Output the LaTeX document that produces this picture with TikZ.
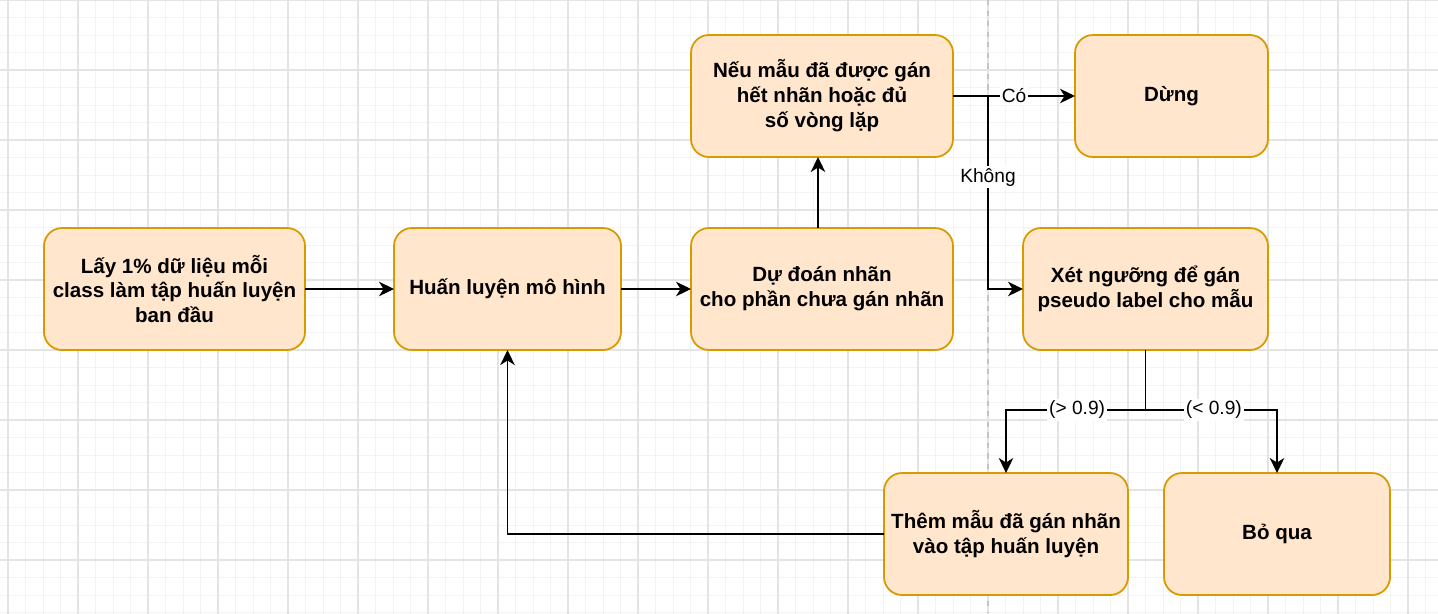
\documentclass[tikz,border=0pt]{standalone}
\usepackage{fontspec}
\setmainfont{Liberation Sans}
\usepackage{tikz}
\usetikzlibrary{arrows.meta,positioning,calc}
\definecolor{boxfill}{HTML}{FFE6CC}
\definecolor{boxline}{HTML}{D79B00}
\definecolor{minorgrid}{HTML}{F3F3F3}
\definecolor{majorgrid}{HTML}{E4E4E4}
\definecolor{pageline}{HTML}{C4C4C4}

\begin{document}
\begin{tikzpicture}[
  box/.style={draw=boxline, fill=boxfill, line width=1pt, rounded corners=0.36cm, align=center,
    minimum height=2.44cm, inner sep=2pt, outer sep=0pt, font=\bfseries\fontsize{11.7}{14.2}\selectfont},
  arr/.style={-{Stealth[length=0.3cm, width=0.29cm, inset=0.09cm]}, line width=1.05pt},
  lbl/.style={fill=white, inner sep=1pt, font=\fontsize{10.9}{13}\selectfont},
  node distance=1.4cm
]
\useasboundingbox (0,0) rectangle (28.76,-12.26);
\draw[minorgrid, line width=0.5pt, xshift=0.16cm, step=0.35cm] (-0.2,0.1) grid (28.7,-12.3);
\draw[majorgrid, line width=0.6pt, xshift=0.16cm, step=1.4cm] (-0.2,0.1) grid (28.7,-12.3);
\draw[pageline, dashed, line width=0.6pt] (19.76,0) -- (19.76,-12.26);

\node[box, minimum width=5.22cm] (init) at (3.49,-5.78) {Lấy 1\% dữ liệu mỗi\\class làm tập huấn luyện\\ban đầu};
\node[box, minimum width=4.54cm, right=1.78cm of init] (train) {Huấn luyện mô hình};
\node[box, minimum width=5.24cm, right=of train] (predict) {Dự đoán nhãn\\cho phần chưa gán nhãn};
\node[box, minimum width=5.24cm, above=1.42cm of predict] (check) {Nếu mẫu đã được gán\\hết nhãn hoặc đủ\\số vòng lặp};
\node[box, minimum width=3.86cm, right=2.44cm of check] (stop) {Dừng};
\node[box, minimum width=4.9cm, right=of predict] (thresh) {Xét ngưỡng để gán\\pseudo label cho mẫu};
\node[box, minimum width=4.88cm, below=2.46cm of thresh, xshift=-2.79cm] (add) {Thêm mẫu đã gán nhãn\\vào tập huấn luyện};
\node[box, minimum width=4.52cm, right=0.72cm of add] (skip) {Bỏ qua};

\coordinate (split) at ($(check.east)+(0.7,0)$);
\coordinate (fork) at ($(thresh.south)+(0,-1.2)$);

\draw[arr] (init) -- (train);
\draw[arr] (train) -- (predict);
\draw[arr] ([xshift=-0.08cm]predict.north) -- ([xshift=-0.08cm]check.south);
\draw[arr] (check) -- node[lbl] {Có} (stop);
\draw[arr] (check.east) -- (split) |- node[lbl, pos=0.21] {Không} (thresh.west);
\draw[line width=1.05pt] (thresh.south) -- (fork);
\draw[arr] (fork) -| node[lbl, pos=0.245] {(> 0.9)} (add.north);
\draw[arr] (fork) -| node[lbl, pos=0.26] {(< 0.9)} (skip.north);
\draw[arr] (add.west) -| (train.south);
\end{tikzpicture}
\end{document}
